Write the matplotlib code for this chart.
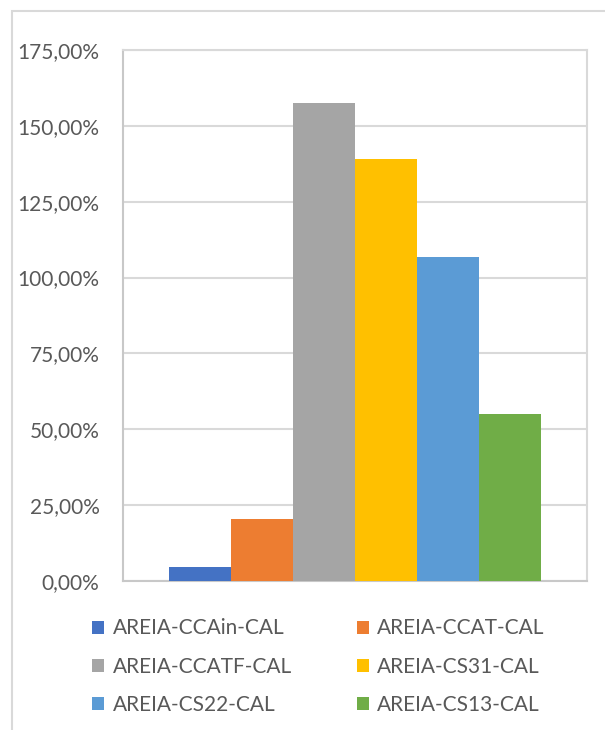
import matplotlib
matplotlib.use('Agg')
import matplotlib.pyplot as plt
from matplotlib.patches import Rectangle
from matplotlib.ticker import FuncFormatter

plt.rcParams['font.family'] = ['Lato', 'DejaVu Sans']

series = ['AREIA-CCAin-CAL', 'AREIA-CCAT-CAL', 'AREIA-CCATF-CAL',
          'AREIA-CS31-CAL', 'AREIA-CS22-CAL', 'AREIA-CS13-CAL']
values = [4.7, 20.4, 157.6, 139.2, 106.7, 55.1]
colors = ['#4472C4', '#ED7D31', '#A5A5A5', '#FFC000', '#5B9BD5', '#70AD47']
yticks = [0, 25, 50, 75, 100, 125, 150, 175]

TEXT = '#595959'
GRID = '#d9d9d9'

fig = plt.figure(figsize=(6.05, 7.3), dpi=100)
ax = fig.add_axes([123 / 605, 1 - 581 / 730, 464 / 605, 531 / 730])

# outer chart frame (runs off the right and bottom edge)
fig.patches.append(Rectangle((12 / 605, -0.1), 1.2, 1 - 11 / 730 + 0.1,
                             transform=fig.transFigure, fill=False,
                             edgecolor=GRID, lw=1.5, zorder=0))

# clustered columns, gap width 150%
n = len(series)
w = 1.0 / (n + 1.5)
bars = []
for i, (name, v, c) in enumerate(zip(series, values, colors)):
    x = 0.5 + (i - (n - 1) / 2) * w
    bars.append(ax.bar(x, v, width=w, color=c, label=name, zorder=3))

ax.set_xlim(0, 1)
ax.set_ylim(0, 175)
ax.set_yticks(yticks)
ax.yaxis.set_major_formatter(FuncFormatter(lambda v, p: f'{v:.2f}%'.replace('.', ',')))
ax.set_xticks([])
ax.tick_params(axis='y', length=0, pad=17, labelsize=15, labelcolor=TEXT)
ax.grid(axis='y', color=GRID, lw=1.5, zorder=0)
for side in ['left', 'bottom']:
    ax.spines[side].set_color('#c8c8c8')
    ax.spines[side].set_linewidth(1.5)
for side in ['top', 'right']:
    ax.spines[side].set_color(GRID)
    ax.spines[side].set_linewidth(1.5)

# legend laid out row-wise, two columns
order = [0, 2, 4, 1, 3, 5]
handles = [bars[i] for i in order]
labels = [series[i] for i in order]
leg = fig.legend(handles, labels, ncol=2, loc='upper left',
                 bbox_to_anchor=(82 / 605, 1 - 608 / 730),
                 frameon=False, fontsize=15, labelcolor=TEXT,
                 handlelength=0.58, handleheight=0.58, handletextpad=0.4,
                 columnspacing=3.1, labelspacing=0.88, borderpad=0)

fig.savefig('out.png', dpi=100)
